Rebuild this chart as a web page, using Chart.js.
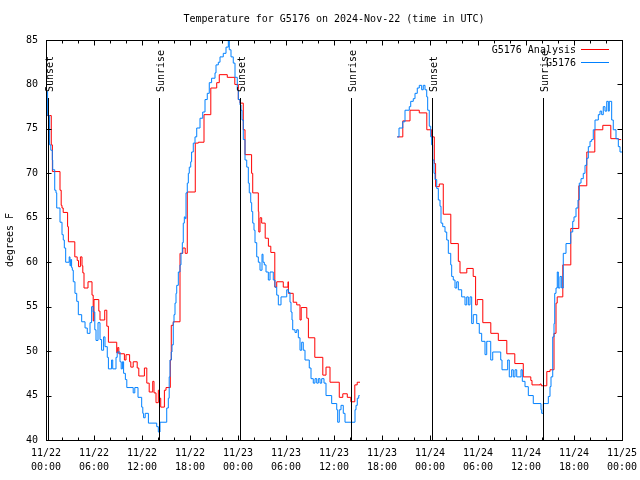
<!DOCTYPE html>
<html>
<head>
<meta charset="utf-8">
<script src="https://cdn.jsdelivr.net/npm/chart.js@4.4.0/dist/chart.umd.min.js"></script>
<style>
html, body { margin: 0; padding: 0; background: #fff; }
canvas { display: block; }
</style>
</head>
<body>
<canvas id="myChart" width="640" height="480"></canvas>
<script>
// Temperature for G5176, hours counted from 11/22 00:00 UTC

// G5176 Analysis (red)
const analysisHours = [
    0, 0.66, 0.8, 1.75, 1.9, 2.0, 2.15, 2.7, 2.8, 3.6,
    3.9, 4.06, 4.3, 4.5, 4.6, 4.75, 5.25, 5.75, 5.9, 6.0,
    6.6, 6.75, 7.34, 7.6, 7.8, 8.84, 8.96, 9.1, 9.8, 10.0,
    10.45, 10.6, 10.9, 11.4, 11.6, 12.3, 12.6, 12.9, 13.34, 13.5,
    13.75, 14.04, 14.16, 14.34, 14.8, 15.0, 15.54, 15.66, 15.9, 16.75,
    17.1, 17.4, 17.66, 18.66, 19.04, 19.75, 20.6, 21.34, 21.66, 22.66,
    23.6, 24.04, 24.25, 24.66, 24.875, 25.7, 25.84, 26.54, 26.6, 26.75,
    26.96, 27.4, 27.8, 28.1, 28.6, 28.84, 29.66, 30.25, 30.3, 30.9,
    31.34, 31.75, 31.9, 32.6, 32.8, 33.6, 34.6, 35.0, 35.5, 36.66,
    37.1, 37.66, 38.1, 38.6, 38.9, 39.25, 39.5, 43.9, 44.6, 45.5,
    46.66, 47.6, 48.2, 48.54, 48.7, 49.16, 49.66, 50.6, 51.54, 51.75,
    52.6, 53.4, 53.7, 53.9, 54.6, 55.6, 56.54, 57.6, 58.6, 59.66,
    60.6, 60.75, 61.75, 61.9, 62.6, 63.0, 63.5, 63.75, 63.9, 64.6,
    65.6, 66.6, 67.6, 68.6, 69.6, 70.6, 71.54, 71.9
];
const analysisTemps = [
    76.5, 73.2, 70.2, 68.1, 66.4, 66.1, 65.6, 64.0, 62.3, 60.6,
    60.2, 59.5, 60.6, 59.6, 58.8, 57.1, 57.8, 56.3, 53.4, 55.8,
    54.5, 53.5, 54.6, 52.8, 51.0, 49.8, 50.4, 49.7, 49.0, 49.6,
    48.8, 48.2, 48.8, 48.1, 47.2, 48.1, 46.4, 45.4, 46.6, 45.3,
    44.2, 45.6, 44.7, 43.7, 45.6, 45.9, 49.0, 52.9, 53.3, 61.0,
    61.6, 61.0, 67.9, 73.4, 73.5, 76.6, 79.6, 80.2, 81.1, 80.8,
    80.0, 78.3, 77.9, 74.9, 72.1, 70.0, 67.8, 65.7, 63.4, 65.0,
    64.4, 62.7, 61.8, 61.1, 57.2, 57.8, 57.2, 57.8, 56.5, 55.5,
    55.2, 53.5, 54.9, 53.7, 51.5, 49.3, 47.3, 48.2, 46.5, 44.8,
    45.2, 44.8, 44.3, 46.2, 46.5, 46.5, null, 74.1, 75.9, 77.1,
    76.8, 74.9, 74.1, 71.1, 68.5, 68.8, 65.4, 62.1, 60.1, 58.8,
    59.3, 58.4, 55.2, 55.8, 53.2, 52.0, 51.2, 49.7, 48.6, 47.1,
    46.7, 46.2, 46.3, 46.1, 47.7, 47.9, 52.0, 55.4, 56.1, 59.7,
    63.8, 68.6, 72.4, 74.9, 75.4, 73.9, 73.8, 73.8
];

// G5176 observations (blue)
const obsHours = [
    0, 0.2, 0.45, 0.6, 0.79, 0.84, 1.09, 1.25, 1.34, 1.75,
    2.0, 2.16, 2.29, 2.46, 2.9, 3.0, 3.09, 3.2, 3.29, 3.41,
    3.62, 3.84, 4.04, 4.46, 4.88, 5.16, 5.5, 5.7, 5.9, 6.1,
    6.25, 6.5, 6.75, 6.95, 7.2, 7.375, 7.66, 7.8, 8.2, 8.34,
    8.75, 8.9, 9.25, 9.4, 9.55, 9.7, 9.92, 10.1, 10.9, 11.1,
    11.5, 11.96, 12.1, 12.2, 12.4, 12.8, 13.84, 14.04, 14.25, 15.09,
    15.29, 15.4, 15.5, 15.66, 15.75, 15.91, 16.0, 16.125, 16.25, 16.34,
    16.54, 16.75, 16.875, 17.04, 17.16, 17.29, 17.41, 17.5, 17.66, 17.79,
    17.91, 18.09, 18.2, 18.41, 18.625, 18.84, 19.25, 19.59, 19.875, 20.16,
    20.41, 20.7, 21.125, 21.25, 21.54, 21.75, 22.16, 22.5, 22.79, 22.91,
    23.125, 23.41, 23.625, 23.91, 24.04, 24.25, 24.375, 24.5, 24.66, 24.875,
    25.09, 25.29, 25.41, 25.59, 25.71, 25.84, 26.0, 26.125, 26.34, 26.54,
    26.75, 27.0, 27.125, 27.29, 27.5, 27.79, 28.0, 28.41, 28.625, 28.84,
    29.04, 29.375, 30.09, 30.29, 30.5, 30.625, 30.75, 30.84, 31.125, 31.34,
    31.54, 31.75, 31.96, 32.16, 32.375, 32.91, 33.125, 33.41, 33.625, 33.84,
    34.04, 34.25, 34.46, 34.75, 35.0, 35.71, 36.34, 36.46, 36.66, 36.875,
    37.16, 37.375, 38.625, 38.75, 38.91, 39.09, 39.2, 39.5, 43.91, 44.125,
    44.59, 44.875, 45.41, 45.59, 45.91, 46.125, 46.41, 46.66, 46.96, 47.16,
    47.375, 47.59, 47.71, 47.91, 48.09, 48.21, 48.34, 48.5, 48.625, 48.84,
    49.04, 49.25, 49.375, 49.59, 49.875, 50.09, 50.29, 50.59, 50.71, 50.91,
    51.125, 51.34, 51.54, 51.96, 52.375, 52.59, 52.79, 53.0, 53.21, 53.41,
    53.84, 54.16, 54.46, 54.875, 55.09, 55.29, 55.59, 55.84, 56.84, 57.0,
    57.71, 57.91, 58.21, 58.41, 58.625, 58.84, 59.375, 59.54, 59.875, 60.29,
    60.91, 61.875, 61.96, 62.16, 62.79, 63.0, 63.125, 63.34, 63.5, 63.59,
    63.75, 63.91, 64.04, 64.25, 64.46, 64.66, 65.0, 65.59, 65.84, 66.0,
    66.25, 66.5, 66.66, 66.875, 67.16, 67.375, 67.59, 67.79, 68.0, 68.21,
    68.41, 68.625, 69.04, 69.25, 69.46, 69.66, 69.875, 70.09, 70.29, 70.41,
    70.71, 70.91, 71.25, 71.54, 71.75, 72.0
];
const obsTemps = [
    79.2, 76.5, 73.2, 72.6, 71.5, 70.4, 68.1, 67.8, 66.1, 64.5,
    63.1, 62.5, 61.6, 60.0, 60.6, 59.6, 60.3, 59.4, 59.1, 57.8,
    56.5, 55.6, 54.1, 53.3, 52.6, 52.0, 53.2, 55.0, 54.4, 52.4,
    51.2, 53.2, 51.3, 50.1, 51.6, 50.5, 49.3, 48.0, 49.0, 48.0,
    49.3, 49.9, 48.8, 48.0, 48.8, 47.5, 46.8, 45.9, 45.3, 45.9,
    44.8, 43.7, 43.0, 42.5, 43.0, 41.9, 41.5, 40.9, 42.0, 43.6,
    44.7, 47.1, 49.0, 49.9, 50.7, 53.2, 54.1, 55.4, 56.5, 57.4,
    58.9, 59.7, 61.0, 62.2, 64.4, 65.1, 64.9, 67.8, 68.9, 70.0,
    70.7, 71.3, 72.4, 73.4, 74.1, 75.1, 76.2, 76.9, 78.3, 79.0,
    80.2, 80.7, 81.3, 82.2, 82.5, 83.1, 83.5, 84.2, 85.0, 83.9,
    83.1, 82.4, 80.8, 79.4, 78.3, 77.7, 77.1, 76.0, 73.8, 71.5,
    70.7, 68.9, 67.8, 66.7, 65.7, 64.4, 63.6, 62.2, 60.6, 60.0,
    59.1, 60.9, 60.0, 59.7, 58.9, 58.0, 58.9, 58.0, 57.2, 56.3,
    55.2, 56.1, 56.9, 56.6, 55.5, 54.4, 53.5, 52.4, 52.1, 52.4,
    51.5, 50.1, 51.0, 50.1, 49.0, 48.1, 46.9, 46.4, 46.9, 46.4,
    46.9, 46.4, 46.9, 46.4, 45.0, 44.1, 43.4, 42.0, 43.4, 43.9,
    43.0, 42.0, 43.4, 43.9, 44.7, 45.0, 45.0, null, 74.1, 75.1,
    75.8, 77.1, 77.5, 78.1, 78.4, 79.0, 79.6, 79.9, 79.4, 79.9,
    79.4, 78.6, 77.1, 75.3, 74.1, 73.2, 71.5, 70.0, 69.3, 68.3,
    67.0, 66.3, 64.4, 64.0, 63.4, 62.5, 61.0, 59.7, 58.4, 58.0,
    57.1, 57.8, 56.9, 56.1, 55.2, 56.1, 55.2, 56.1, 53.1, 54.1,
    53.1, 52.0, 51.1, 49.6, 51.1, 51.1, 49.0, 49.9, 49.0, 47.9,
    49.0, 47.1, 47.9, 47.1, 47.9, 47.1, 47.9, 46.6, 46.0, 45.0,
    44.1, 43.4, 43.0, 44.1, 44.9, 46.0, 47.1, 51.6, 53.1, 56.5,
    57.1, 58.9, 57.1, 58.4, 57.1, 61.0, 62.1, 63.4, 64.6, 65.1,
    66.1, 67.0, 68.9, 69.4, 70.0, 70.9, 71.7, 73.0, 73.6, 73.8,
    74.9, 76.0, 76.6, 77.0, 76.6, 77.5, 77.0, 78.1, 77.0, 78.1,
    76.0, 74.9, 73.9, 73.0, 72.4, 72.4
];

// sun events (hours) and axis ticks
const sunsetHours = [0.28, 24.28, 48.29];
const sunriseHours = [14.12, 38.12, 62.15];
const yTicks = [40, 45, 50, 55, 60, 65, 70, 75, 80, 85];

const FONT = '10px "DejaVu Sans Mono", monospace';

function toPoints(hours, temps) {
    return hours.map((h, i) => ({ x: h, y: temps[i] }));
}

function pad(n) {
    return n < 10 ? '0' + n : '' + n;
}

// frame, ticks, sun markers, title and legend drawn like gnuplot
const gnuplotFrame = {
    id: 'gnuplotFrame',
    afterDraw(chart) {
        const ctx = chart.ctx;
        const a = chart.chartArea;
        const xs = chart.scales.x;
        const ys = chart.scales.y;
        ctx.save();
        ctx.strokeStyle = '#000';
        ctx.fillStyle = '#000';
        ctx.lineWidth = 1;
        ctx.font = FONT;

        // sunrise / sunset lines
        const marks = sunsetHours.map(h => [h, 'Sunset']).concat(sunriseHours.map(h => [h, 'Sunrise']));
        marks.forEach(([h, label]) => {
            const px = Math.round(xs.getPixelForValue(h)) + 0.5;
            ctx.beginPath();
            ctx.moveTo(px, 98);
            ctx.lineTo(px, a.bottom);
            ctx.stroke();
            ctx.save();
            ctx.translate(px + 2, 92);
            ctx.rotate(-Math.PI / 2);
            ctx.textAlign = 'left';
            ctx.textBaseline = 'middle';
            ctx.fillText(label, 0, 0);
            ctx.restore();
        });

        // border
        const l = Math.round(a.left) + 0.5, r = Math.round(a.right) + 0.5;
        const t = Math.round(a.top) + 0.5, b = Math.round(a.bottom) + 0.5;
        ctx.strokeRect(l, t, r - l, b - t);

        // inward ticks
        ctx.beginPath();
        for (let h = 0; h <= 72; h += 2) {
            const px = Math.round(xs.getPixelForValue(h)) + 0.5;
            const len = h % 6 === 0 ? 5 : 3;
            ctx.moveTo(px, b); ctx.lineTo(px, b - len);
            ctx.moveTo(px, t); ctx.lineTo(px, t + len);
        }
        yTicks.forEach(v => {
            const py = Math.round(ys.getPixelForValue(v)) + 0.5;
            ctx.moveTo(l, py); ctx.lineTo(l + 5, py);
            ctx.moveTo(r, py); ctx.lineTo(r - 5, py);
        });
        ctx.stroke();

        // title
        ctx.textAlign = 'center';
        ctx.textBaseline = 'middle';
        ctx.fillText('Temperature for G5176 on 2024-Nov-22 (time in UTC)', (a.left + a.right) / 2, 19);

        // y label
        ctx.save();
        ctx.translate(10, (a.top + a.bottom) / 2);
        ctx.rotate(-Math.PI / 2);
        ctx.fillText('degrees F', 0, 0);
        ctx.restore();

        // legend
        ctx.textAlign = 'right';
        ctx.fillText('G5176 Analysis', 576, 50);
        ctx.fillText('G5176', 576, 63);
        ctx.strokeStyle = '#ff0000';
        ctx.beginPath(); ctx.moveTo(581, 49.5); ctx.lineTo(609, 49.5); ctx.stroke();
        ctx.strokeStyle = 'rgb(0,128,255)';
        ctx.beginPath(); ctx.moveTo(581, 62.5); ctx.lineTo(609, 62.5); ctx.stroke();

        ctx.restore();
    }
};

const data = {
    datasets: [{
        label: 'G5176 Analysis',
        data: toPoints(analysisHours, analysisTemps),
        borderColor: '#ff0000',
        borderWidth: 1,
        pointRadius: 0,
        stepped: true,
        spanGaps: false,
        fill: false,
        order: 2
    }, {
        label: 'G5176',
        data: toPoints(obsHours, obsTemps),
        borderColor: 'rgb(0,128,255)',
        borderWidth: 1,
        pointRadius: 0,
        stepped: true,
        spanGaps: false,
        fill: false,
        order: 1
    }]
};

const config = {
    type: 'line',
    data: data,
    options: {
        responsive: false,
        animation: false,
        devicePixelRatio: 1,
        layout: { padding: { left: 0, right: 18, top: 40, bottom: 0 } },
        plugins: {
            legend: { display: false },
            title: { display: false },
            tooltip: { enabled: false }
        },
        scales: {
            x: {
                type: 'linear',
                min: 0,
                max: 72,
                grid: { display: false, drawTicks: false },
                border: { display: false },
                ticks: {
                    stepSize: 6,
                    autoSkip: false,
                    maxRotation: 0,
                    minRotation: 0,
                    padding: 6,
                    color: '#000',
                    font: { family: '"DejaVu Sans Mono", monospace', size: 10, lineHeight: 1.4 },
                    callback: (v) => {
                        const day = 22 + Math.floor(v / 24);
                        return ['11/' + day, pad(v % 24) + ':00'];
                    }
                },
                afterFit: (scale) => {
                    scale.height = 40;
                    scale.paddingLeft = 0;
                    scale.paddingRight = 0;
                }
            },
            y: {
                min: 40,
                max: 85,
                grid: { display: false, drawTicks: false },
                border: { display: false },
                ticks: {
                    stepSize: 5,
                    padding: 8,
                    color: '#000',
                    font: { family: '"DejaVu Sans Mono", monospace', size: 10 }
                },
                afterFit: (scale) => {
                    scale.width = 46;
                    scale.paddingTop = 0;
                    scale.paddingBottom = 0;
                }
            }
        }
    },
    plugins: [gnuplotFrame]
};

const myChart = new Chart(document.getElementById('myChart'), config);
</script>
</body>
</html>
